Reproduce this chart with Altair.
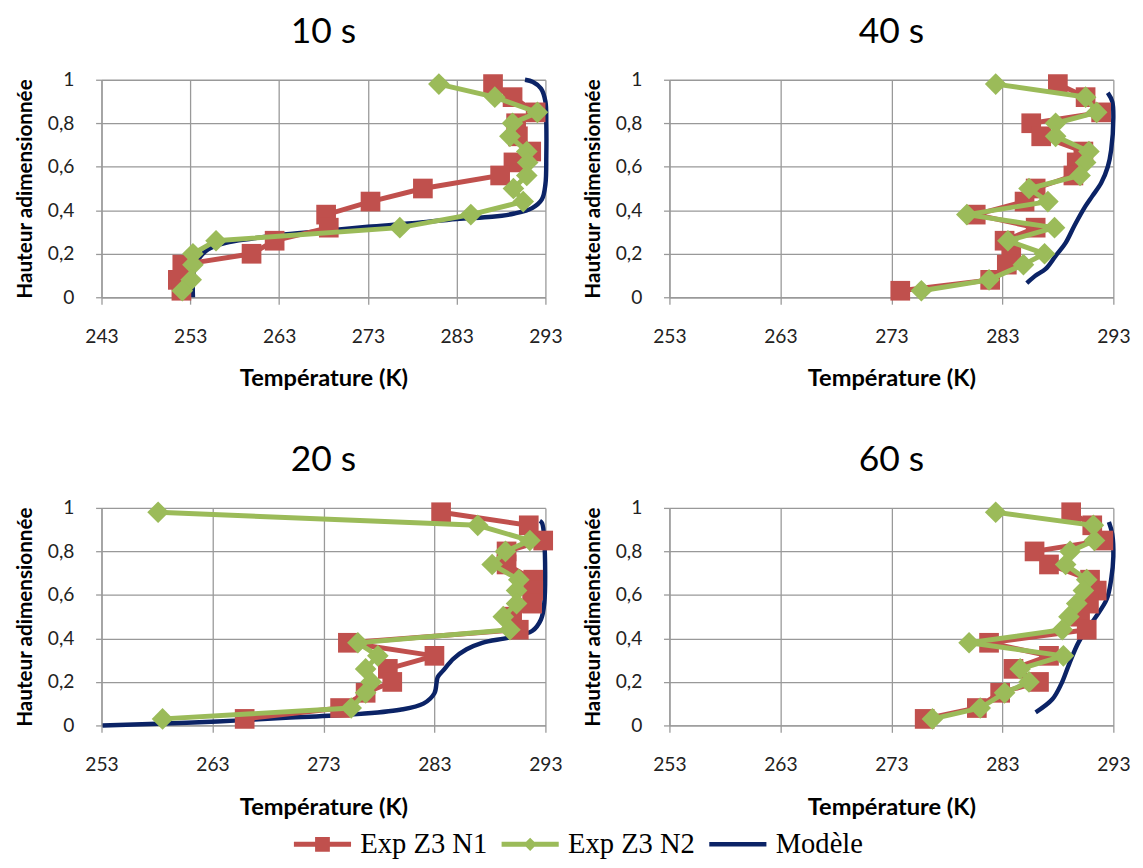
import altair as alt
import pandas as pd

# ---------------- data ----------------
SERIES = ["Exp Z3 N1", "Exp Z3 N2", "Modèle"]
COLORS = ["#C0504D", "#9BBB59", "#0B2366"]

H = [0.98, 0.92, 0.85, 0.80, 0.74, 0.67, 0.62, 0.56, 0.50, 0.44, 0.38, 0.32, 0.26, 0.20, 0.15, 0.08, 0.03]

T10_N1 = [287.1, 289.3, 291.9, 289.7, 289.9, 291.4, 289.4, 287.9, 279.2, 273.3, 268.3, 268.6, 262.5, 259.9, 252.1, 251.6, 252.0]
T10_N2 = [281.0, 287.3, 292.1, 289.3, 289.0, 290.9, 291.0, 290.9, 289.4, 290.5, 284.6, 276.6, 255.9, 253.3, 253.3, 253.1, 252.1]
M10_T = [253.3, 253.3, 253.5, 254.0, 255.0, 257.0, 260.0, 263.0, 268.0, 273.0, 278.0, 283.0, 287.0, 289.5, 291.5, 292.6, 293.0, 293.1, 293.1, 293.0, 292.5, 291.6, 290.7]
M10_H = [0.0, 0.08, 0.14, 0.18, 0.22, 0.25, 0.27, 0.287, 0.305, 0.324, 0.34, 0.36, 0.37, 0.385, 0.41, 0.45, 0.52, 0.65, 0.8, 0.9, 0.96, 0.99, 1.0]

T40_N1 = [288.0, 290.5, 291.9, 285.6, 286.5, 290.3, 289.7, 289.4, 286.0, 285.0, 280.6, 286.0, 283.2, 283.8, 283.4, 281.9, 273.8]
T40_N2 = [282.4, 290.5, 291.5, 287.8, 287.8, 290.8, 290.5, 290.0, 285.4, 287.1, 279.8, 287.7, 283.5, 286.8, 284.9, 281.8, 275.7]
M40_T = [285.2, 286.0, 286.9, 287.8, 288.7, 289.5, 290.5, 291.1, 291.9, 292.5, 292.8, 293.0, 292.9, 292.5]
M40_H = [0.065, 0.10, 0.13, 0.19, 0.25, 0.33, 0.42, 0.465, 0.525, 0.60, 0.676, 0.83, 0.90, 0.94]

T20_N1 = [283.6, 291.5, 292.8, 289.5, 289.5, 291.9, 291.9, 291.8, 290.0, 290.6, 275.2, 283.0, 278.8, 279.2, 276.8, 274.5, 265.9]
T20_N2 = [258.1, 286.9, 291.6, 289.4, 288.2, 290.6, 290.4, 290.4, 289.2, 289.8, 276.1, 277.9, 276.8, 277.3, 276.8, 275.5, 258.5]
M20_T = [253.1, 260.7, 265.0, 269.6, 275.5, 279.9, 282.0, 283.0, 283.2, 283.3, 283.8, 284.7, 285.9, 287.3, 289.7, 291.8, 292.6, 292.9, 292.9, 292.7, 292.5]
M20_H = [0.0, 0.012, 0.022, 0.035, 0.05, 0.072, 0.10, 0.148, 0.20, 0.223, 0.253, 0.306, 0.35, 0.38, 0.404, 0.434, 0.487, 0.563, 0.85, 0.93, 0.94]

T60_N1 = [289.2, 291.1, 292.1, 285.9, 287.2, 290.9, 291.5, 290.8, 290.0, 290.6, 281.8, 287.2, 284.0, 286.3, 282.8, 280.7, 276.0]
T60_N2 = [282.4, 291.2, 291.3, 289.1, 288.7, 290.6, 290.3, 289.7, 289.0, 288.4, 280.0, 288.5, 284.6, 285.4, 283.2, 281.0, 276.7]
M60_T = [286.0, 287.5, 288.3, 289.0, 289.9, 291.3, 292.4, 292.8, 293.0, 292.9, 292.6]
M60_H = [0.06, 0.12, 0.19, 0.28, 0.385, 0.49, 0.58, 0.67, 0.777, 0.88, 0.935]

X_TICKS_10 = [243, 253, 263, 273, 283, 293]
X_TICKS = [253, 263, 273, 283, 293]
Y_TICKS = [0, 0.2, 0.4, 0.6, 0.8, 1]

PANELS = [
    ("10 s", T10_N1, T10_N2, M10_T, M10_H, X_TICKS_10),
    ("40 s", T40_N1, T40_N2, M40_T, M40_H, X_TICKS),
    ("20 s", T20_N1, T20_N2, M20_T, M20_H, X_TICKS),
    ("60 s", T60_N1, T60_N2, M60_T, M60_H, X_TICKS),
]

rows = []
for name, n1, n2, mt, mh, _ in PANELS:
    for i, (t, h) in enumerate(zip(n1, H)):
        rows.append({"panel": name, "series": SERIES[0], "T": t, "h": h, "idx": i})
    for i, (t, h) in enumerate(zip(n2, H)):
        rows.append({"panel": name, "series": SERIES[1], "T": t, "h": h, "idx": i})
    for i, (t, h) in enumerate(zip(mt, mh)):
        rows.append({"panel": name, "series": SERIES[2], "T": t, "h": h, "idx": i})
df = pd.DataFrame(rows)

# legend symbols: line with marker
LEG_PATHS = [
    "M-3.87,-0.33H3.87V0.33H-3.87Z M-1,-1H1V1H-1Z",
    "M-3.87,-0.33H3.87V0.33H-3.87Z M0,-0.9L0.9,0L0,0.9L-0.9,0Z",
    "M-3.87,-0.3H3.87V0.3H-3.87Z",
]

FONT = "Lato"


def make_panel(name, xticks, with_legend=False):
    base = alt.Chart(df).transform_filter(alt.datum.panel == name)
    x = alt.X(
        "T:Q",
        scale=alt.Scale(domain=[xticks[0], xticks[-1]], nice=False, zero=False),
        axis=alt.Axis(values=xticks, title="Température (K)"),
    )
    y = alt.Y(
        "h:Q",
        scale=alt.Scale(domain=[0, 1], nice=False),
        axis=alt.Axis(
            values=Y_TICKS,
            title="Hauteur adimensionnée",
            labelExpr="replace(format(datum.value, '.1~f'), '.', ',')",
        ),
    )
    model = base.transform_filter(alt.datum.series == SERIES[2]).mark_line(
        color=COLORS[2], strokeWidth=4.5, interpolate="catmull-rom"
    ).encode(x=x, y=y, order="idx:Q")
    n1 = base.transform_filter(alt.datum.series == SERIES[0])
    n1_line = n1.mark_line(color=COLORS[0], strokeWidth=5).encode(x=x, y=y, order="idx:Q")
    n1_pts = n1.mark_point(shape="square", filled=True, size=400, color=COLORS[0], opacity=1).encode(x=x, y=y)
    n2 = base.transform_filter(alt.datum.series == SERIES[1])
    n2_line = n2.mark_line(color=COLORS[1], strokeWidth=5).encode(x=x, y=y, order="idx:Q")
    n2_pts = n2.mark_point(shape="diamond", filled=True, size=484, color=COLORS[1], opacity=1).encode(x=x, y=y)
    layers = [model, n1_line, n1_pts, n2_line, n2_pts]
    if with_legend:
        leg = dict(
            title=None,
            orient="none",
            legendX=210,
            legendY=762,
            direction="horizontal",
            labelFont="Liberation Serif",
            labelFontSize=29,
            labelColor="#000000",
            symbolSize=225,
            symbolStrokeWidth=0,
            symbolOpacity=1,
            labelOffset=24,
            columnPadding=14,
        )
        legend_layer = alt.Chart(df).transform_filter("false").mark_point(
            filled=True, opacity=1, size=225
        ).encode(
            color=alt.Color("series:N", scale=alt.Scale(domain=SERIES, range=COLORS), legend=alt.Legend(**leg)),
            shape=alt.Shape("series:N", scale=alt.Scale(domain=SERIES, range=LEG_PATHS), legend=alt.Legend(**leg)),
        )
        layers.append(legend_layer)
    return alt.layer(*layers).properties(
        width=451,
        height=221,
        title=alt.TitleParams(
            text=name, fontSize=36, font=FONT, fontWeight="normal", anchor="middle",
            baseline="alphabetic", offset=-9, color="#000000", frame="group",
        ),
    )


p10 = make_panel("10 s", X_TICKS_10)
p40 = make_panel("40 s", X_TICKS)
p20 = make_panel("20 s", X_TICKS)
p60 = make_panel("60 s", X_TICKS, with_legend=True)

chart = alt.vconcat(
    alt.hconcat(p10, p40, spacing=20),
    alt.hconcat(p20, p60, spacing=20),
    spacing=53,
).properties(
    padding={"left": 6, "top": 0, "right": 5, "bottom": 5},
    background="white",
).configure_view(stroke=None).configure_axis(
    domainColor="#999999", domainWidth=1.3,
    gridColor="#999999", gridWidth=1.3,
    tickColor="#999999", tickWidth=1.3,
    labelFont=FONT, labelFontSize=19.5, labelColor="#222222", labelFlush=False,
    titleFont=FONT, titleFontWeight="bold", titleColor="#000000",
).configure_axisX(
    tickSize=7, labelPadding=24, titleBaseline="alphabetic", titleY=90, titleFontSize=24,
).configure_axisY(
    tickSize=6, labelPadding=22, titleBaseline="alphabetic", titleX=-71, titleAngle=270, titleFontSize=21,
)

chart.save("out.html", embed_options={"renderer": "svg", "actions": False})
